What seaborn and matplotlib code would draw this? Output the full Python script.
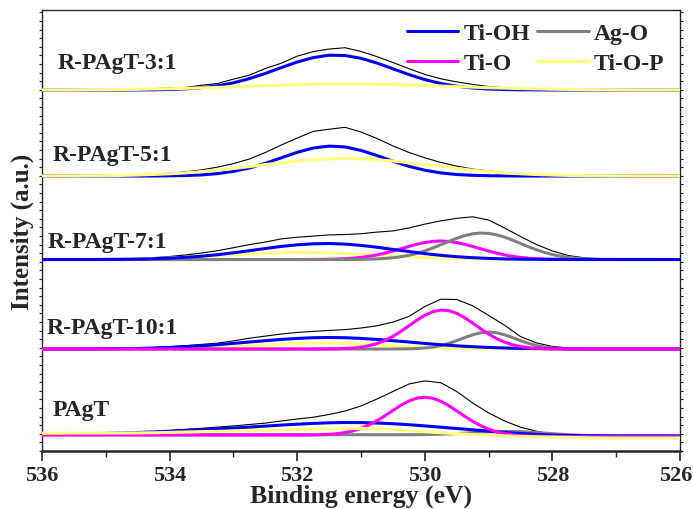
import matplotlib
matplotlib.use("Agg")
import matplotlib.pyplot as plt
import matplotlib.transforms as mtrans
from matplotlib.lines import Line2D
from matplotlib.ticker import MultipleLocator, NullFormatter
import seaborn as sns
import pandas as pd

# ---------------- data ----------------
energy = [536.0, 535.75, 535.5, 535.25, 535.0, 534.75, 534.5, 534.25, 534.0, 533.75,
          533.5, 533.25, 533.0, 532.75, 532.5, 532.25, 532.0, 531.75, 531.5, 531.25,
          531.0, 530.75, 530.5, 530.25, 530.0, 529.75, 529.5, 529.25, 529.0, 528.75,
          528.5, 528.25, 528.0, 527.75, 527.5, 527.25, 527.0, 526.75, 526.5, 526.25,
          526.0]
# finer energy grid used for the narrow Ti-O / Ag-O components
energy_fine = [536.0, 532.0, 531.875, 531.75, 531.625, 531.5, 531.375, 531.25, 531.125,
               531.0, 530.875, 530.75, 530.625, 530.5, 530.375, 530.25, 530.125, 530.0,
               529.875, 529.75, 529.625, 529.5, 529.375, 529.25, 529.125, 529.0, 528.875,
               528.75, 528.625, 528.5, 528.375, 528.25, 528.125, 528.0, 527.875, 527.75,
               527.625, 527.5, 527.25, 527.0, 526.0]

samples = ["R-PAgT-3:1", "R-PAgT-5:1", "R-PAgT-7:1", "R-PAgT-10:1", "PAgT"]
components = ["Ti-OH", "Ti-O", "Ag-O", "Ti-O-P"]
xticks = [536, 534, 532, 530, 528, 526]

# R-PAgT-3:1
raw_31 = [0.1,0.1,0.2,0.3,0.4, 0.5,0.8,1.4,2.0,2.6, 4.8,6.5,10.9,14.8,21.5,
          26.8,33.9,38.4,41.0,42.3, 38.5,33.4,27.5,21.4,15.6, 11.2,8.1,5.6,3.5,2.2,
          1.5,1.0,0.7,0.4,0.3, 0.2,0.1,0.1,0,0, 0]
tioh_31 = [0,0,0,0,0, 0,0.1,0.2,0.5,1.2, 2.3,4.2,7.2,11.4,16.6, 22.4,28.0,32.4,34.8,34.5,
           31.7,27.0,21.2,15.5,10.4, 6.5,3.8,2.0,1.0,0.5, 0.2,0.1,0,0,0, 0,0,0,0,0, 0]
tiop_31 = [0.1,0.1,0.2,0.3,0.4, 0.5,0.7,1.0,1.3,1.7, 2.1,2.6,3.2,3.8,4.3, 4.8,5.3,5.7,5.9,6.0,
           6.0,5.8,5.5,5.0,4.5, 4.0,3.4,2.9,2.3,1.9, 1.4,1.1,0.8,0.6,0.4, 0.3,0.2,0.1,0.1,0.1, 0.1]

# R-PAgT-5:1
raw_51 = [0.1,0.1,0.2,0.3,0.5, 0.8,1.2,1.9,2.9,4.2, 6.1,8.9,12.4,17.0,23.5,
          31.0,38.0,44.6,46.8,48.7, 44.0,37.5,30.1,23.6,18.2, 13.6,9.9,7.0,5.2,3.4,
          2.3,1.4,0.9,0.5,0.3, 0.2,0.1,0.1,0,0, 0]
tioh_51 = [0,0,0,0,0, 0,0,0,0.2,0.5, 1.1,2.4,4.6,8.0,12.7, 18.2,23.7,28.0,29.9,29.1,
           25.6,20.5,14.8,9.7,5.8, 3.1,1.5,0.7,0.3,0.1, 0,0,0,0,0, 0,0,0,0,0, 0]
tiop_51 = [0.04,0.07,0.12,0.2,0.37, 0.6,1.0,1.5,2.2,3.1, 4.4,5.8,7.6,9.4,11.4,
           13.3,15.0,16.3,17.2,17.5, 17.2,16.3,15.0,13.3,11.4, 9.4,7.6,5.8,4.4,3.1,
           2.2,1.5,1.0,0.6,0.37, 0.2,0.12,0.07,0.04,0.02, 0.01]

# R-PAgT-7:1
raw_71 = [0,0,0.1,0.2,0.4, 0.6,1.2,2.0,3.0,4.6, 6.5,8.8,11.8,14.9,17.5,
          20.6,22.3,23.4,24.6,25.0, 25.8,27.4,28.6,31.5,35.4, 38.6,41.2,42.7,39.5,31.5,
          23.0,15.0,8.5,4.0,1.7, 0.6,0.2,0,0,0, 0]
tioh_71 = [0,0,0,0,0.1, 0.2,0.4,0.8,1.3,2.2, 3.3,4.8,6.7,8.8,11.0, 13.1,14.7,15.7,16.0,15.4,
           14.1,12.3,10.1,8.0,5.9, 4.2,2.8,1.8,1.1,0.6, 0.3,0.2,0.1,0,0, 0,0,0,0,0, 0]
tio_71 = [0, 0, 0.04, 0.07, 0.14, 0.26, 0.47, 0.81, 1.34, 2.11, 3.18, 4.61, 6.39, 8.47,
          10.75, 13.08, 15.23, 16.97, 18.11, 18.5, 18.11, 16.97, 15.23, 13.08, 10.75, 8.47,
          6.39, 4.61, 3.18, 2.11, 1.34, 0.81, 0.47, 0.26, 0.14, 0.07, 0.04, 0.01, 0, 0, 0]
ago_71 = [0, 0, 0, 0, 0, 0.01, 0.02, 0.04, 0.09, 0.18, 0.33, 0.60, 1.05, 1.74, 2.77, 4.24,
          6.17, 8.60, 11.51, 14.74, 18.07, 21.22, 23.86, 25.68, 26.48, 26.13, 24.70, 22.36,
          19.38, 16.07, 12.77, 9.72, 7.08, 4.94, 3.30, 2.11, 1.29, 0.76, 0.23, 0.06, 0]
tiop_71 = [0,0.05,0.1,0.15,0.25, 0.4,0.7,1.0,1.5,2.1, 2.9,3.7,4.6,5.4,6.2, 6.7,7.0,6.9,6.6,6.0,
           5.3,4.4,3.5,2.7,2.0, 1.4,0.95,0.6,0.4,0.2, 0.1,0,0,0,0, 0,0,0,0,0, 0]

# R-PAgT-10:1
raw_101 = [0,0,0,0.1,0.2, 0.4,0.7,1.5,2.3,3.4, 4.6,5.9,8.1,10.8,12.9,
           15.0,16.6,17.6,18.6,19.4, 21.0,23.2,26.9,32.5,42.5, 49.8,49.5,43.2,33.6,23.8,
           12.4,6.1,2.6,1.0,0.5, 0.3,0.4,0.1,0,0, 0]
tioh_101 = [0,0,0,0.1,0.2, 0.4,0.6,1.0,1.6,2.3, 3.2,4.3,5.6,7.0,8.3, 9.6,10.6,11.3,11.5,11.3,
            10.6,9.6,8.3,7.0,5.6, 4.3,3.2,2.3,1.6,1.0, 0.6,0.4,0.2,0.1,0, 0,0,0,0,0, 0]
tio_101 = [0, 0, 0, 0.02, 0.05, 0.11, 0.25, 0.51, 1.01, 1.88, 3.31, 5.48, 8.58, 12.66,
           17.64, 23.20, 28.79, 33.74, 37.31, 38.93, 38.35, 35.67, 31.31, 25.92, 20.27,
           14.95, 10.42, 6.85, 4.25, 2.49, 1.37, 0.72, 0.35, 0.16, 0.07, 0.03, 0.01, 0, 0, 0, 0]
ago_101 = [0, 0, 0, 0, 0, 0, 0, 0, 0, 0, 0, 0, 0.01, 0.03, 0.08, 0.20, 0.47, 1.00, 1.94,
           3.45, 5.62, 8.37, 11.41, 14.24, 16.26, 17.0, 16.26, 14.24, 11.41, 8.37, 5.62,
           3.45, 1.94, 1.00, 0.47, 0.20, 0.08, 0.03, 0, 0, 0]
tiop_101 = [0,0,0,0,0, 0,0.1,0.2,0.3,0.6, 1.0,1.5,2.25,3.1,4.0, 4.9,5.5,5.9,6.0,5.6,
            5.0,4.2,3.3,2.4,1.7, 1.1,0.7,0.4,0.2,0.1, 0,0,0,0,0, 0,0,0,0,0, 0]

# PAgT
raw_p = [2.4,2.4,2.5,2.6,2.7, 2.9,3.2,3.8,5.0,6.2, 7.2,8.4,9.6,11.0,12.4,
         14.5,16.5,18.3,21.0,24.5, 29.5,36.5,44.0,51.5,54.6, 52.8,44.0,32.5,22.6,14.5,
         8.3,4.3,1.4,0.2,-0.3, -0.5,-0.6,-0.6,-0.6,-0.6, -0.6]
tioh_p = [1.5,1.6,1.7,1.9,2.1, 2.5,3.0,3.6,4.3,5.0, 5.8,6.6,7.5,8.4,9.4,
          10.4,11.3,12.1,12.7,13.0, 12.9,12.5,11.8,10.8,9.6, 8.3,7.0,5.7,4.4,3.1,
          2.0,1.1,0.4,0,-0.2, -0.3,-0.4,-0.4,-0.4,-0.4, -0.4]
tio_p = [0.5, 0.44, 0.49, 0.6, 0.8, 1.2, 1.86, 2.94, 4.64, 7.13, 10.51, 14.79, 19.77,
         25.09, 30.2, 34.49, 37.33, 38.3, 37.23, 34.29, 29.9, 24.69, 19.27, 14.19, 9.81,
         6.33, 3.74, 1.94, 0.76, 0.01, -0.44, -0.7, -0.86, -0.96, -1.05, -1.1, -1.15,
         -1.2, -1.25, -1.3, -1.3]
ago_p = [0.8,0.8,0.8,0.8,0.8, 0.8,0.8,0.8,0.8,0.8, 0.8,0.8,0.8,0.8,0.8,
         0.8,0.8,0.8,0.8,0.8, 0.8,0.8,0.8,0.8,0.9, 1.3,1.9,2.8,3.6,4.1,
         3.9,3.0,1.8,0.8,0.1, -0.4,-0.6,-0.6,-0.6,-0.6, -0.6]
tiop_p = [2.3,2.3,2.4,2.4,2.5, 2.5,2.6,2.8,3.1,3.5, 3.9,4.2,4.5,4.9,5.2,
          5.5,5.9,6.3,6.7,7.1, 7.1,6.7,5.9,4.8,3.8, 2.8,1.9,1.0,0.3,-0.3,
          -0.9,-1.3,-1.6,-1.9,-2.2, -2.4,-2.5,-2.5,-2.5,-2.5, -2.5]

# ---------------- layout / style ----------------
offsets = {"R-PAgT-3:1": 361, "R-PAgT-5:1": 275, "R-PAgT-7:1": 191.5,
           "R-PAgT-10:1": 102, "PAgT": 15.5}
label_pos = {"R-PAgT-3:1": (535.76, 389), "R-PAgT-5:1": (535.83, 297),
             "R-PAgT-7:1": (535.91, 210), "R-PAgT-10:1": (535.92, 124),
             "PAgT": (535.83, 42)}
colors = {"Ti-OH": "#0000FF", "Ti-O": "#FF00FF", "Ag-O": "#808080",
          "Ti-O-P": "#FFFF80", "raw": "black"}

# (component, values, energy grid) in drawing order per sample
series = {
    "R-PAgT-3:1": [("raw", raw_31, energy), ("Ti-OH", tioh_31, energy),
                   ("Ti-O-P", tiop_31, energy)],
    "R-PAgT-5:1": [("raw", raw_51, energy), ("Ti-OH", tioh_51, energy),
                   ("Ti-O-P", tiop_51, energy)],
    "R-PAgT-7:1": [("raw", raw_71, energy), ("Ti-O-P", tiop_71, energy),
                   ("Ti-O", tio_71, energy_fine), ("Ag-O", ago_71, energy_fine),
                   ("Ti-OH", tioh_71, energy)],
    "R-PAgT-10:1": [("raw", raw_101, energy), ("Ti-O-P", tiop_101, energy),
                    ("Ag-O", ago_101, energy_fine), ("Ti-OH", tioh_101, energy),
                    ("Ti-O", tio_101, energy_fine)],
    "PAgT": [("raw", raw_p, energy), ("Ag-O", ago_p, energy),
             ("Ti-OH", tioh_p, energy), ("Ti-O", tio_p, energy_fine),
             ("Ti-O-P", tiop_p, energy)],
}

sns.set_style("ticks")
plt.rcParams["font.family"] = ["Liberation Serif", "DejaVu Serif"]
plt.rcParams["font.weight"] = "bold"
plt.rcParams["axes.labelweight"] = "bold"

fig, ax = plt.subplots(figsize=(6.93, 5.10), dpi=100)
fig.subplots_adjust(left=0.0606, right=0.9813, bottom=0.1137, top=0.9784)

z = 2
for s in samples:
    for comp, vals, grid in series[s]:
        df = pd.DataFrame({"energy": grid,
                           "intensity": [v + offsets[s] for v in vals]})
        lw = 0.8 if comp == "raw" else 2.2
        sns.lineplot(data=df, x="energy", y="intensity", ax=ax, color=colors[comp],
                     linewidth=lw, sort=False, estimator=None, zorder=z)
        z += 1
    tx, ty = label_pos[s]
    ax.text(tx, ty, s, fontsize=17, fontweight="bold", ha="left", va="center",
            zorder=50)

ax.set_xlim(536, 526)
ax.set_ylim(0, 441)
ax.set_xticks(xticks)
ax.set_xticklabels([str(t) for t in xticks])
ax.xaxis.set_minor_locator(MultipleLocator(1))
ax.yaxis.set_major_locator(MultipleLocator(8.6))
ax.yaxis.set_major_formatter(NullFormatter())
ax.tick_params(axis="x", which="major", direction="out", length=7, width=1.2,
               labelsize=16, pad=3)
ax.tick_params(axis="x", which="minor", direction="out", length=4, width=1.0)
ax.tick_params(axis="y", which="major", direction="out", length=2.5, width=0.8,
               left=True, right=True)
for side in ["left", "right", "top"]:
    ax.spines[side].set_linewidth(1.0)
ax.spines["bottom"].set_linewidth(1.8)
xlabels = ax.get_xticklabels()
for lab in xlabels:
    lab.set_fontweight("bold")
# nudge the last label slightly inward so it stays inside the figure
xlabels[-1].set_transform(xlabels[-1].get_transform() +
                          mtrans.ScaledTranslation(-4 / 100, 0, fig.dpi_scale_trans))

ax.set_xlabel("Binding energy (eV)", fontsize=18.5, fontweight="bold", labelpad=-1)
ax.set_ylabel("Intensity (a.u.)", fontsize=18, fontweight="bold", labelpad=0)

handles = [Line2D([0], [0], color=colors[c], lw=2.2) for c in components]
leg = ax.legend(handles, components, loc="upper right", bbox_to_anchor=(0.975, 0.972),
                ncol=2, frameon=False, fontsize=17, handlelength=2.2,
                handletextpad=0.2, columnspacing=0.3, labelspacing=0.37,
                borderpad=0, borderaxespad=0)
for t in leg.get_texts():
    t.set_fontweight("bold")

fig.savefig("out.png", dpi=100)
